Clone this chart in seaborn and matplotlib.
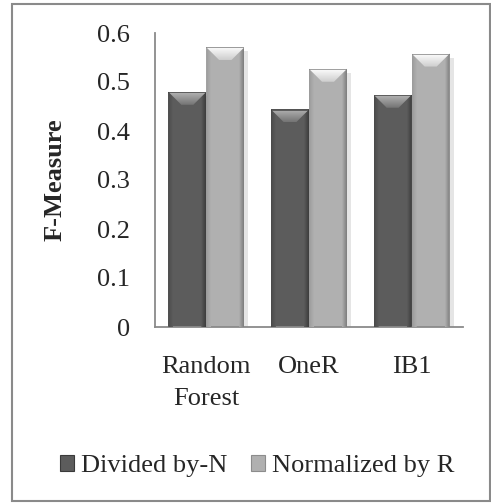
import numpy as np
import pandas as pd
import matplotlib
matplotlib.use("Agg")
import matplotlib.pyplot as plt
from matplotlib.patches import Polygon, Rectangle, Patch
import seaborn as sns

# Data
models = ["Random\nForest", "OneR", "IB1"]
divided_by_n = [0.480, 0.444, 0.474]
normalized_by_r = [0.571, 0.527, 0.558]
series_names = ["Divided by-N", "Normalized by R"]
y_ticks = [0, 0.1, 0.2, 0.3, 0.4, 0.5, 0.6]

df = pd.DataFrame({
    "model": models * 2,
    "scheme": [series_names[0]] * 3 + [series_names[1]] * 3,
    "value": divided_by_n + normalized_by_r,
})

sns.set_theme(style="white")
plt.rcParams["font.family"] = ["Liberation Serif", "DejaVu Serif"]

W, H = 491, 503
fig = plt.figure(figsize=(W / 100, H / 100), dpi=100)
ax = fig.add_axes([155 / W, 1 - 327 / H, (463 - 155) / W, (327 - 33) / H])

dark, light = "#5c5c5c", "#b0b0b0"
sns.barplot(data=df, x="model", y="value", hue="scheme", palette=[dark, light],
            width=0.74, saturation=1, legend=False, ax=ax, linewidth=0,
            order=models, hue_order=series_names)

ax.set_ylim(0, 0.6)
ax.set_xlim(-0.5, 2.5)
ax.set_yticks(y_ticks)
ax.set_yticklabels([f"{t:g}" for t in y_ticks])
ax.set_xlabel("")
ax.set_ylabel("F-Measure", fontsize=19, fontweight="bold", labelpad=22)
ax.tick_params(axis="y", labelsize=19, length=0, pad=18)
ax.tick_params(axis="x", labelsize=19, length=0, pad=21)
for lab in ax.get_xticklabels():
    lab.set_linespacing(1.6)
for side in ["top", "right"]:
    ax.spines[side].set_visible(False)
for side in ["left", "bottom"]:
    ax.spines[side].set_color("#8a8a8a")
    ax.spines[side].set_linewidth(1.3)

# Bevelled look for each bar
px_x = 3 / (463 - 155)      # data units per pixel in x
px_y = 0.6 / (327 - 33)     # data units per pixel in y
bevel_top = {dark: ("#b4b4b4", "#747474"), light: ("#fcfcfc", "#cdcdcd")}
side_col = {dark: ("#4a4a4a", "#3c3c3c"), light: ("#9a9a9a", "#7c7c7c")}


def gradient_fill(ax, clip, c_a, c_b, x0, x1, y0, y1, z, vertical=True):
    t = np.linspace(0, 1, 64)
    ca = np.array(matplotlib.colors.to_rgb(c_a))
    cb = np.array(matplotlib.colors.to_rgb(c_b))
    if vertical:
        # c_a at the top, c_b at the bottom
        img = ca[None, None, :] * (1 - t[:, None, None]) + cb[None, None, :] * t[:, None, None]
        im = ax.imshow(img, extent=[x0, x1, y0, y1], aspect="auto", zorder=z,
                       origin="upper", interpolation="bilinear")
    else:
        # c_a at the left, c_b at the right
        img = ca[None, None, :] * (1 - t[None, :, None]) + cb[None, None, :] * t[None, :, None]
        im = ax.imshow(img, extent=[x0, x1, y0, y1], aspect="auto", zorder=z,
                       origin="lower", interpolation="bilinear")
    im.set_clip_path(clip)


for cont, base in zip(ax.containers, [dark, light]):
    for bar in cont:
        x0 = bar.get_x()
        w = bar.get_width()
        h = bar.get_height()
        x1 = x0 + w
        dx, dy = 13 * px_x, 13 * px_y
        sx = 5 * px_x
        # soft shadow on the right side
        ax.add_patch(Rectangle((x1, 0), 4 * px_x, h - 4 * px_y, color="#000000",
                               alpha=0.10, lw=0, zorder=1.5))
        # left and right side bevels
        left = Polygon([(x0, 0), (x0, h), (x0 + sx, h - sx / px_x * px_y), (x0 + sx, 0)],
                       closed=True, facecolor="none", edgecolor="none", zorder=3)
        right = Polygon([(x1, 0), (x1, h), (x1 - sx, h - sx / px_x * px_y), (x1 - sx, 0)],
                        closed=True, facecolor="none", edgecolor="none", zorder=3)
        ax.add_patch(left)
        ax.add_patch(right)
        c_side, c_edge = side_col[base]
        gradient_fill(ax, left, c_side, base, x0, x0 + sx, 0, h, 3, vertical=False)
        gradient_fill(ax, right, base, c_edge, x1 - sx, x1, 0, h, 3, vertical=False)
        # top bevel trapezoid
        pts = [(x0, h), (x1, h), (x1 - dx, h - dy), (x0 + dx, h - dy)]
        poly = Polygon(pts, closed=True, facecolor="none", edgecolor="none", zorder=4)
        ax.add_patch(poly)
        top_c, bot_c = bevel_top[base]
        gradient_fill(ax, poly, top_c, bot_c, x0, x1, h - dy, h, 4)
        ax.add_patch(Rectangle((x0, h - 1.2 * px_y), w, 1.2 * px_y,
                               color=c_edge, alpha=0.7, lw=0, zorder=5))

ax.set_xlim(-0.5, 2.5)
ax.set_ylim(0, 0.6)

# Legend
handles = [Patch(facecolor=dark, edgecolor="#3a3a3a", linewidth=0.8),
           Patch(facecolor=light, edgecolor="#8c8c8c", linewidth=0.8)]
fig.legend(handles, series_names, loc="center", bbox_to_anchor=(257 / W, 1 - 466 / H),
           ncol=2, frameon=False, fontsize=19, handlelength=0.55, handleheight=0.55,
           handletextpad=0.25, columnspacing=0.9, borderpad=0, borderaxespad=0)

# Outer chart frame
fig.add_artist(Rectangle((12 / W, 1 - 501 / H), (490 - 12) / W, (501 - 4) / H,
                         transform=fig.transFigure, fill=False,
                         edgecolor="#8a8a8a", linewidth=1.5))

fig.savefig("out.png", dpi=100)
